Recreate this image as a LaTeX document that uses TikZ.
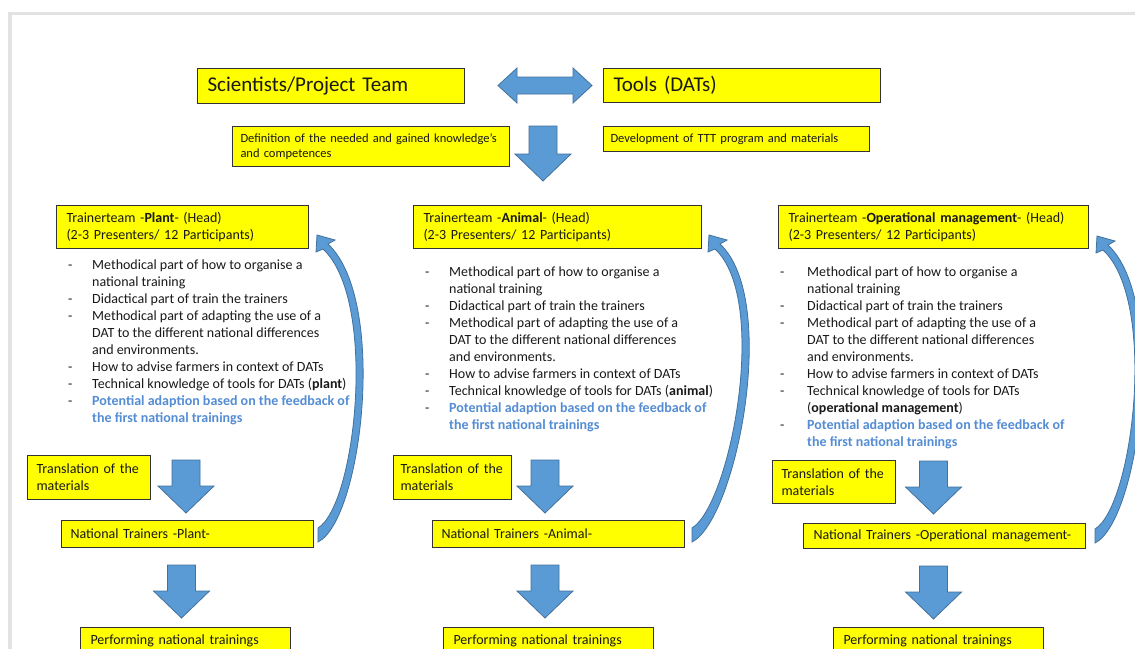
\documentclass[tikz,border=0pt]{standalone}
\usepackage{fontspec}
\setmainfont{Carlito}
\usetikzlibrary{positioning}
\definecolor{boxyellow}{RGB}{255,255,0}
\definecolor{arrowblue}{RGB}{91,155,213}
\definecolor{arrowedge}{RGB}{65,113,156}
\definecolor{feedblue}{RGB}{84,141,212}
\definecolor{framegray}{RGB}{226,226,226}
\definecolor{inkgray}{RGB}{25,25,25}

\tikzset{
  ybox/.style={draw=black!80, line width=1pt, fill=boxyellow, anchor=north west,
               align=left, inner xsep=10pt, inner ysep=0pt, text=inkgray,
               font=\fontsize{14}{17}\selectfont},
  listtext/.style={anchor=base west, inner sep=0pt, text=inkgray,
                   font=\fontsize{14}{17}\selectfont},
  blockarr/.style={fill=arrowblue, draw=arrowedge, line width=0.8pt},
}

% straight block arrow pointing down: centre x, top y, length
\newcommand{\downblock}[3]{%
  \filldraw[blockarr] ({#1-14},#2) -- ({#1+14},#2) -- ({#1+14},{#2+#3-27})
    -- ({#1+28},{#2+#3-27}) -- (#1,{#2+#3}) -- ({#1-28},{#2+#3-27})
    -- ({#1-14},{#2+#3-27}) -- cycle;}

% curved feedback arrow: tail x, tail y, shift of the head
\newcommand{\loopback}[3]{%
  \begin{scope}[shift={(#1,#2)}]
    \filldraw[blockarr] (0,7) .. controls (44,-15) and ({70+#3},-235) .. ({10+#3},-291)
      -- ({17+#3},-295) -- ({-1+#3},-300) -- ({-2+#3},-283) -- ({5+#3},-286)
      .. controls ({60+#3},-235) and (38,-30) .. (0,-7) -- cycle;
  \end{scope}}

\newcommand{\feedback}{\textcolor{feedblue}{\bfseries Potential adaption based on the feedback of}}
\newcommand{\feedbackend}{\textcolor{feedblue}{\bfseries the first national trainings}}

\begin{document}
\begin{tikzpicture}[x=1pt, y=-1pt]
  \useasboundingbox (0,0) rectangle (1135,648);
  \clip (0,0) rectangle (1135,648);
  \fill[white] (0,0) rectangle (1135,648);
  \draw[framegray, line width=3.5pt] (10,660) -- (10,13.5) -- (1145,13.5);

  % top row
  \node[ybox, minimum width=267, text width=247, minimum height=35,
        font=\fontsize{21}{24}\selectfont] (team) at (197,68) {Scientists/Project Team};
  \node[ybox, minimum width=277, text width=257, minimum height=34,
        font=\fontsize{21}{24}\selectfont] (tools) at (603,68) {Tools (DATs)};
  \filldraw[blockarr] (498,85.5) -- (517,68) -- (517,77) -- (573,77) -- (573,68)
    -- (592,85.5) -- (573,103) -- (573,94) -- (517,94) -- (517,103) -- cycle;

  \node[ybox, inner xsep=8pt, minimum width=277, text width=261, minimum height=40,
        font=\fontsize{12.5}{15}\selectfont] (needs) at (232,126)
        {Definition of the needed and gained knowledge's\\and competences};
  \node[ybox, inner xsep=7pt, minimum width=266, text width=252, minimum height=25,
        font=\fontsize{12.5}{15}\selectfont] (ttt) at (603,126)
        {Development of TTT program and materials};
  \downblock{543}{126}{55}

  % column: plant
  \node[ybox, minimum width=252, text width=232, minimum height=43] (headplant) at (56,205)
        {Trainerteam -\textbf{Plant}- (Head)\\(2-3 Presenters/ 12 Participants)};
  \node[listtext] (listplant) at (68,269.5) {\begin{tabular}[t]{@{}p{24pt}@{}l@{}}
    - & Methodical part of how to organise a\\
      & national training\\
    - & Didactical part of train the trainers\\
    - & Methodical part of adapting the use of a\\
      & DAT to the different national differences\\
      & and environments.\\
    - & How to advise farmers in context of DATs\\
    - & Technical knowledge of tools for DATs (\textbf{plant})\\
    - & \feedback\\
      & \feedbackend
  \end{tabular}};
  \node[ybox, inner xsep=9pt, minimum width=123, text width=105, minimum height=44] (transplant) at (27,455)
        {Translation of the\\materials};
  \downblock{186}{460}{53}
  \node[ybox, inner xsep=9pt, minimum width=252, text width=234, minimum height=27] (natplant) at (61,520)
        {National Trainers -Plant-};
  \loopback{318}{535}{0}
  \downblock{181.5}{565}{53}
  \node[ybox, minimum width=210, text width=190, minimum height=26] (perfplant) at (80,627)
        {Performing national trainings};

  % column: animal
  \node[ybox, minimum width=288, text width=268, minimum height=43] (headanimal) at (413,205)
        {Trainerteam -\textbf{Animal}- (Head)\\(2-3 Presenters/ 12 Participants)};
  \node[listtext] (listanimal) at (425,276) {\begin{tabular}[t]{@{}p{24pt}@{}l@{}}
    - & Methodical part of how to organise a\\
      & national training\\
    - & Didactical part of train the trainers\\
    - & Methodical part of adapting the use of a\\
      & DAT to the different national differences\\
      & and environments.\\
    - & How to advise farmers in context of DATs\\
    - & Technical knowledge of tools for DATs (\textbf{animal})\\
    - & \feedback\\
      & \feedbackend
  \end{tabular}};
  \node[ybox, inner xsep=7pt, minimum width=118, text width=104, minimum height=44] (transanimal) at (393,455)
        {Translation of the\\materials};
  \downblock{545}{460}{53}
  \node[ybox, inner xsep=9pt, minimum width=252, text width=234, minimum height=27] (natanimal) at (432,520)
        {National Trainers -Animal-};
  \loopback{692}{535}{18}
  \downblock{545}{565}{53}
  \node[ybox, minimum width=210, text width=190, minimum height=26] (perfanimal) at (443,627)
        {Performing national trainings};

  % column: operational management
  \node[ybox, minimum width=310, text width=290, minimum height=43] (headop) at (778,205)
        {Trainerteam -\textbf{Operational management}- (Head)\\(2-3 Presenters/ 12 Participants)};
  \node[listtext] (listop) at (780,276) {\begin{tabular}[t]{@{}p{27pt}@{}l@{}}
    - & Methodical part of how to organise a\\
      & national training\\
    - & Didactical part of train the trainers\\
    - & Methodical part of adapting the use of a\\
      & DAT to the different national differences\\
      & and environments.\\
    - & How to advise farmers in context of DATs\\
    - & Technical knowledge of tools for DATs\\
      & (\textbf{operational management})\\
    - & \feedback\\
      & \feedbackend
  \end{tabular}};
  \node[ybox, inner xsep=9pt, minimum width=123, text width=105, minimum height=43] (transop) at (772,460)
        {Translation of the\\materials};
  \downblock{933.5}{461}{53}
  \node[ybox, minimum width=282, text width=262, minimum height=25] (natop) at (803,523)
        {National Trainers -Operational management-};
  \loopback{1095}{536}{3}
  \downblock{933.5}{566}{53}
  \node[ybox, minimum width=210, text width=190, minimum height=26] (perfop) at (833,627)
        {Performing national trainings};
\end{tikzpicture}
\end{document}
